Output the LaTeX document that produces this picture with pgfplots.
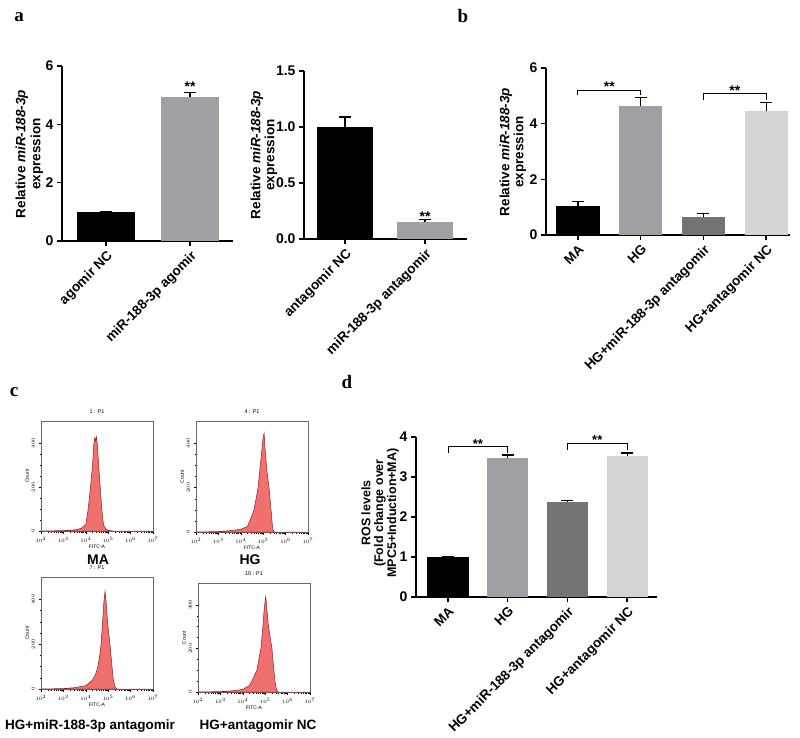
\documentclass[border=0pt]{standalone}
\usepackage{fontspec}
\setmainfont{Liberation Sans}
\newfontfamily\tnr{Liberation Serif}
\usepackage{pgfplots}
\pgfplotsset{compat=1.18}
\definecolor{gA}{RGB}{160,160,164}
\definecolor{gB}{RGB}{115,115,115}
\definecolor{gC}{RGB}{212,212,212}
\definecolor{fl}{RGB}{240,112,112}
\definecolor{fld}{RGB}{140,30,30}
\newcommand\fs[1]{\fontsize{#1}{#1}\selectfont}
\pgfplotsset{
  prism/.style={
    scale only axis, anchor=south west, clip=false,
    axis lines=left, axis line style={-, line width=1.4pt},
    tick style={line width=1.4pt, black}, major tick length=5pt, tick align=outside,
    ymin=0,
    /pgf/number format/assume math mode=true,
    yticklabel style={font=\bfseries\fs{14}},
    xticklabel style={rotate=45, anchor=north east, font=\bfseries\fs{13.5}, inner sep=2.5pt},
  },
  pbar/.style={ybar, bar width=0.69, bar shift=0pt, draw=none, fill=#1,
    error bars/.cd, y dir=plus, y explicit,
    error bar style={line width=1.3pt, black},
    error mark options={rotate=90, mark size=6pt, line width=1.3pt, black}},
  bracket/.style={black, line width=1pt, mark=none},
  flow/.style={
    scale only axis, anchor=south west, width=112pt,
    xmin=100, xmax=1e7, ymin=0, ymax=500,
    ytick={0,200,400}, minor y tick num=3,
    xtick pos=bottom, ytick pos=left, tick align=outside,
    major tick length=2.5pt, minor tick length=1.5pt,
    axis line style={black!60, line width=0.6pt}, tick style={black, line width=0.4pt},
    ticklabel style={font=\fs{5}},
    yticklabel style={rotate=90, anchor=south},
    xlabel={FITC-A}, ylabel={Count},
    xlabel style={font=\fs{5}, yshift=4pt},
    ylabel style={font=\fs{5}, yshift=-4pt},
    title style={font=\fs{5.5}, yshift=-2pt},
  },
  hist/.style={fill=fl, draw=fld, line width=0.5pt, mark=none},
}
\tikzset{
  stars/.style={anchor=base, yshift=-3pt, font=\bfseries\fs{14}, inner sep=0pt},
  yl/.style={rotate=90, anchor=center, inner sep=0pt, font=\bfseries\fs{13.5}},
  yd/.style={rotate=90, anchor=center, inner sep=0pt, font=\bfseries\fs{12.5}},
}
\begin{document}
\begin{tikzpicture}
\path[use as bounding box] (0pt,0pt) rectangle (800pt,-737pt);

% panel letters
\node[font=\tnr\bfseries\fs{19}] at (19pt,-17pt) {a};
\node[font=\tnr\bfseries\fs{19}] at (463pt,-16pt) {b};
\node[font=\tnr\bfseries\fs{19}] at (14pt,-392pt) {c};
\node[font=\tnr\bfseries\fs{19}] at (347pt,-382pt) {d};

% y labels, one node per line
\node[yl] at (22pt,-154pt) {Relative \textit{miR-188-3p}};
\node[yl] at (37pt,-154pt) {expression};
\node[yl] at (257pt,-155pt) {Relative \textit{miR-188-3p}};
\node[yl] at (271pt,-155pt) {expression};
\node[yl] at (506pt,-152pt) {Relative \textit{miR-188-3p}};
\node[yl] at (520pt,-152pt) {expression};
\node[yd] at (366pt,-513pt) {ROS levels};
\node[yd] at (380pt,-513pt) {(Fold change over};
\node[yd] at (393pt,-513pt) {MPC5+Induction+MA)};

% a, left
\begin{axis}[prism, at={(62pt,-241pt)}, width=171pt, height=175pt,
  xmin=-0.524, xmax=1.51, ymax=6, ytick={0,2,4,6}, xtick={0,1},
  xticklabels={agomir NC, miR-188-3p agomir}]
\addplot[pbar=black] coordinates {(0,1.0) +- (0,0.02)};
\addplot[pbar=gA] coordinates {(1,4.93) +- (0,0.17)};
\node[stars] at (axis cs:1,5.22) {**};
\end{axis}

% a, right
\begin{axis}[prism, at={(304pt,-239pt)}, width=163pt, height=168pt,
  xmin=-0.5125, xmax=1.525, ymax=1.5, ytick={0,0.5,1,1.5},
  yticklabel style={/pgf/number format/.cd, fixed, fixed zerofill, precision=1},
  xtick={0,1}, xticklabels={antagomir NC, miR-188-3p antagomir}]
\addplot[pbar=black] coordinates {(0,1.0) +- (0,0.09)};
\addplot[pbar=gA] coordinates {(1,0.15) +- (0,0.025)};
\node[stars] at (axis cs:1,0.18) {**};
\end{axis}

% b
\begin{axis}[prism, at={(546pt,-235pt)}, width=244pt, height=167pt,
  xmin=-0.51, xmax=3.38, ymax=6, ytick={0,2,4,6}, xtick={0,1,2,3},
  xticklabels={MA, HG, HG+miR-188-3p antagomir, HG+antagomir NC}]
\addplot[pbar=black] coordinates {(0,1.03) +- (0,0.18)};
\addplot[pbar=gA] coordinates {(1,4.63) +- (0,0.30)};
\addplot[pbar=gB] coordinates {(2,0.65) +- (0,0.12)};
\addplot[pbar=gC] coordinates {(3,4.44) +- (0,0.32)};
\addplot[bracket] coordinates {(0,5.03) (0,5.2) (1,5.2) (1,5.03)};
\addplot[bracket] coordinates {(2,4.86) (2,5.07) (3,5.07) (3,4.86)};
\node[stars] at (axis cs:0.5,5.25) {**};
\node[stars] at (axis cs:2.5,5.12) {**};
\end{axis}

% d
\begin{axis}[prism, at={(416pt,-597pt)}, width=241pt, height=160pt,
  xmin=-0.536, xmax=3.5, ymax=4, ytick={0,1,2,3,4}, xtick={0,1,2,3},
  xticklabels={MA, HG, HG+miR-188-3p antagomir, HG+antagomir NC}]
\addplot[pbar=black] coordinates {(0,1.0) +- (0,0.02)};
\addplot[pbar=gA] coordinates {(1,3.47) +- (0,0.08)};
\addplot[pbar=gB] coordinates {(2,2.38) +- (0,0.04)};
\addplot[pbar=gC] coordinates {(3,3.52) +- (0,0.08)};
\addplot[bracket] coordinates {(0,3.6) (0,3.775) (1,3.775) (1,3.6)};
\addplot[bracket] coordinates {(2,3.68) (2,3.85) (3,3.85) (3,3.68)};
\node[stars, font=\bfseries\fs{13}] at (axis cs:0.5,3.8) {**};
\node[stars, font=\bfseries\fs{13}] at (axis cs:2.5,3.88) {**};
\end{axis}

% c, flow histograms
\begin{semilogxaxis}[flow, at={(41pt,-531pt)}, height=110pt, title={1 : P1}]
\addplot[hist] coordinates {(100,0) (1000,2) (3162,5) (6310,12) (10000,30) (12589,95)
  (15849,190) (19953,300) (23000,400) (25119,425) (27500,410) (30000,428) (33000,390)
  (39811,260) (44000,200) (50119,120) (56234,60) (63096,25) (79433,8) (100000,3) (160000,0) (1e7,0)} \closedcycle;
\end{semilogxaxis}

\begin{semilogxaxis}[flow, at={(196pt,-532pt)}, height=111pt, title={4 : P1}]
\addplot[hist] coordinates {(100,0) (1000,2) (3162,6) (10000,12) (19953,25) (25119,50)
  (31623,75) (38905,100) (50119,160) (58884,200) (70795,280) (85114,360) (100000,430)
  (109648,445) (120226,380) (144544,280) (181970,200) (223872,100) (251189,40) (275423,10) (320000,0) (1e7,0)} \closedcycle;
\end{semilogxaxis}

\begin{semilogxaxis}[flow, at={(41pt,-689pt)}, height=112pt, title={7 : P1}]
\addplot[hist] coordinates {(100,0) (1000,2) (3162,6) (10000,15) (19953,40) (28184,70)
  (34674,100) (43652,160) (47863,200) (56234,300) (63096,380) (72444,437) (79433,400)
  (93325,300) (120000,200) (148000,100) (170000,40) (200000,10) (250000,0) (1e7,0)} \closedcycle;
\end{semilogxaxis}

\begin{semilogxaxis}[flow, at={(198pt,-692pt)}, height=109pt, title={10 : P1}]
\addplot[hist] coordinates {(100,0) (1000,2) (3162,5) (10000,12) (19953,30) (28184,60)
  (42658,100) (56234,170) (64565,200) (75858,280) (90000,380) (105000,437) (115000,400)
  (140000,300) (200000,200) (245000,100) (280000,40) (320000,10) (380000,0) (1e7,0)} \closedcycle;
\end{semilogxaxis}

\node[font=\bfseries\fs{14}] at (98pt,-560pt) {MA};
\node[font=\bfseries\fs{14}] at (250pt,-560pt) {HG};
\node[font=\bfseries\fs{13.5}] at (90pt,-726pt) {HG+miR-188-3p antagomir};
\node[font=\bfseries\fs{13.5}] at (258pt,-726pt) {HG+antagomir NC};
\end{tikzpicture}
\end{document}
